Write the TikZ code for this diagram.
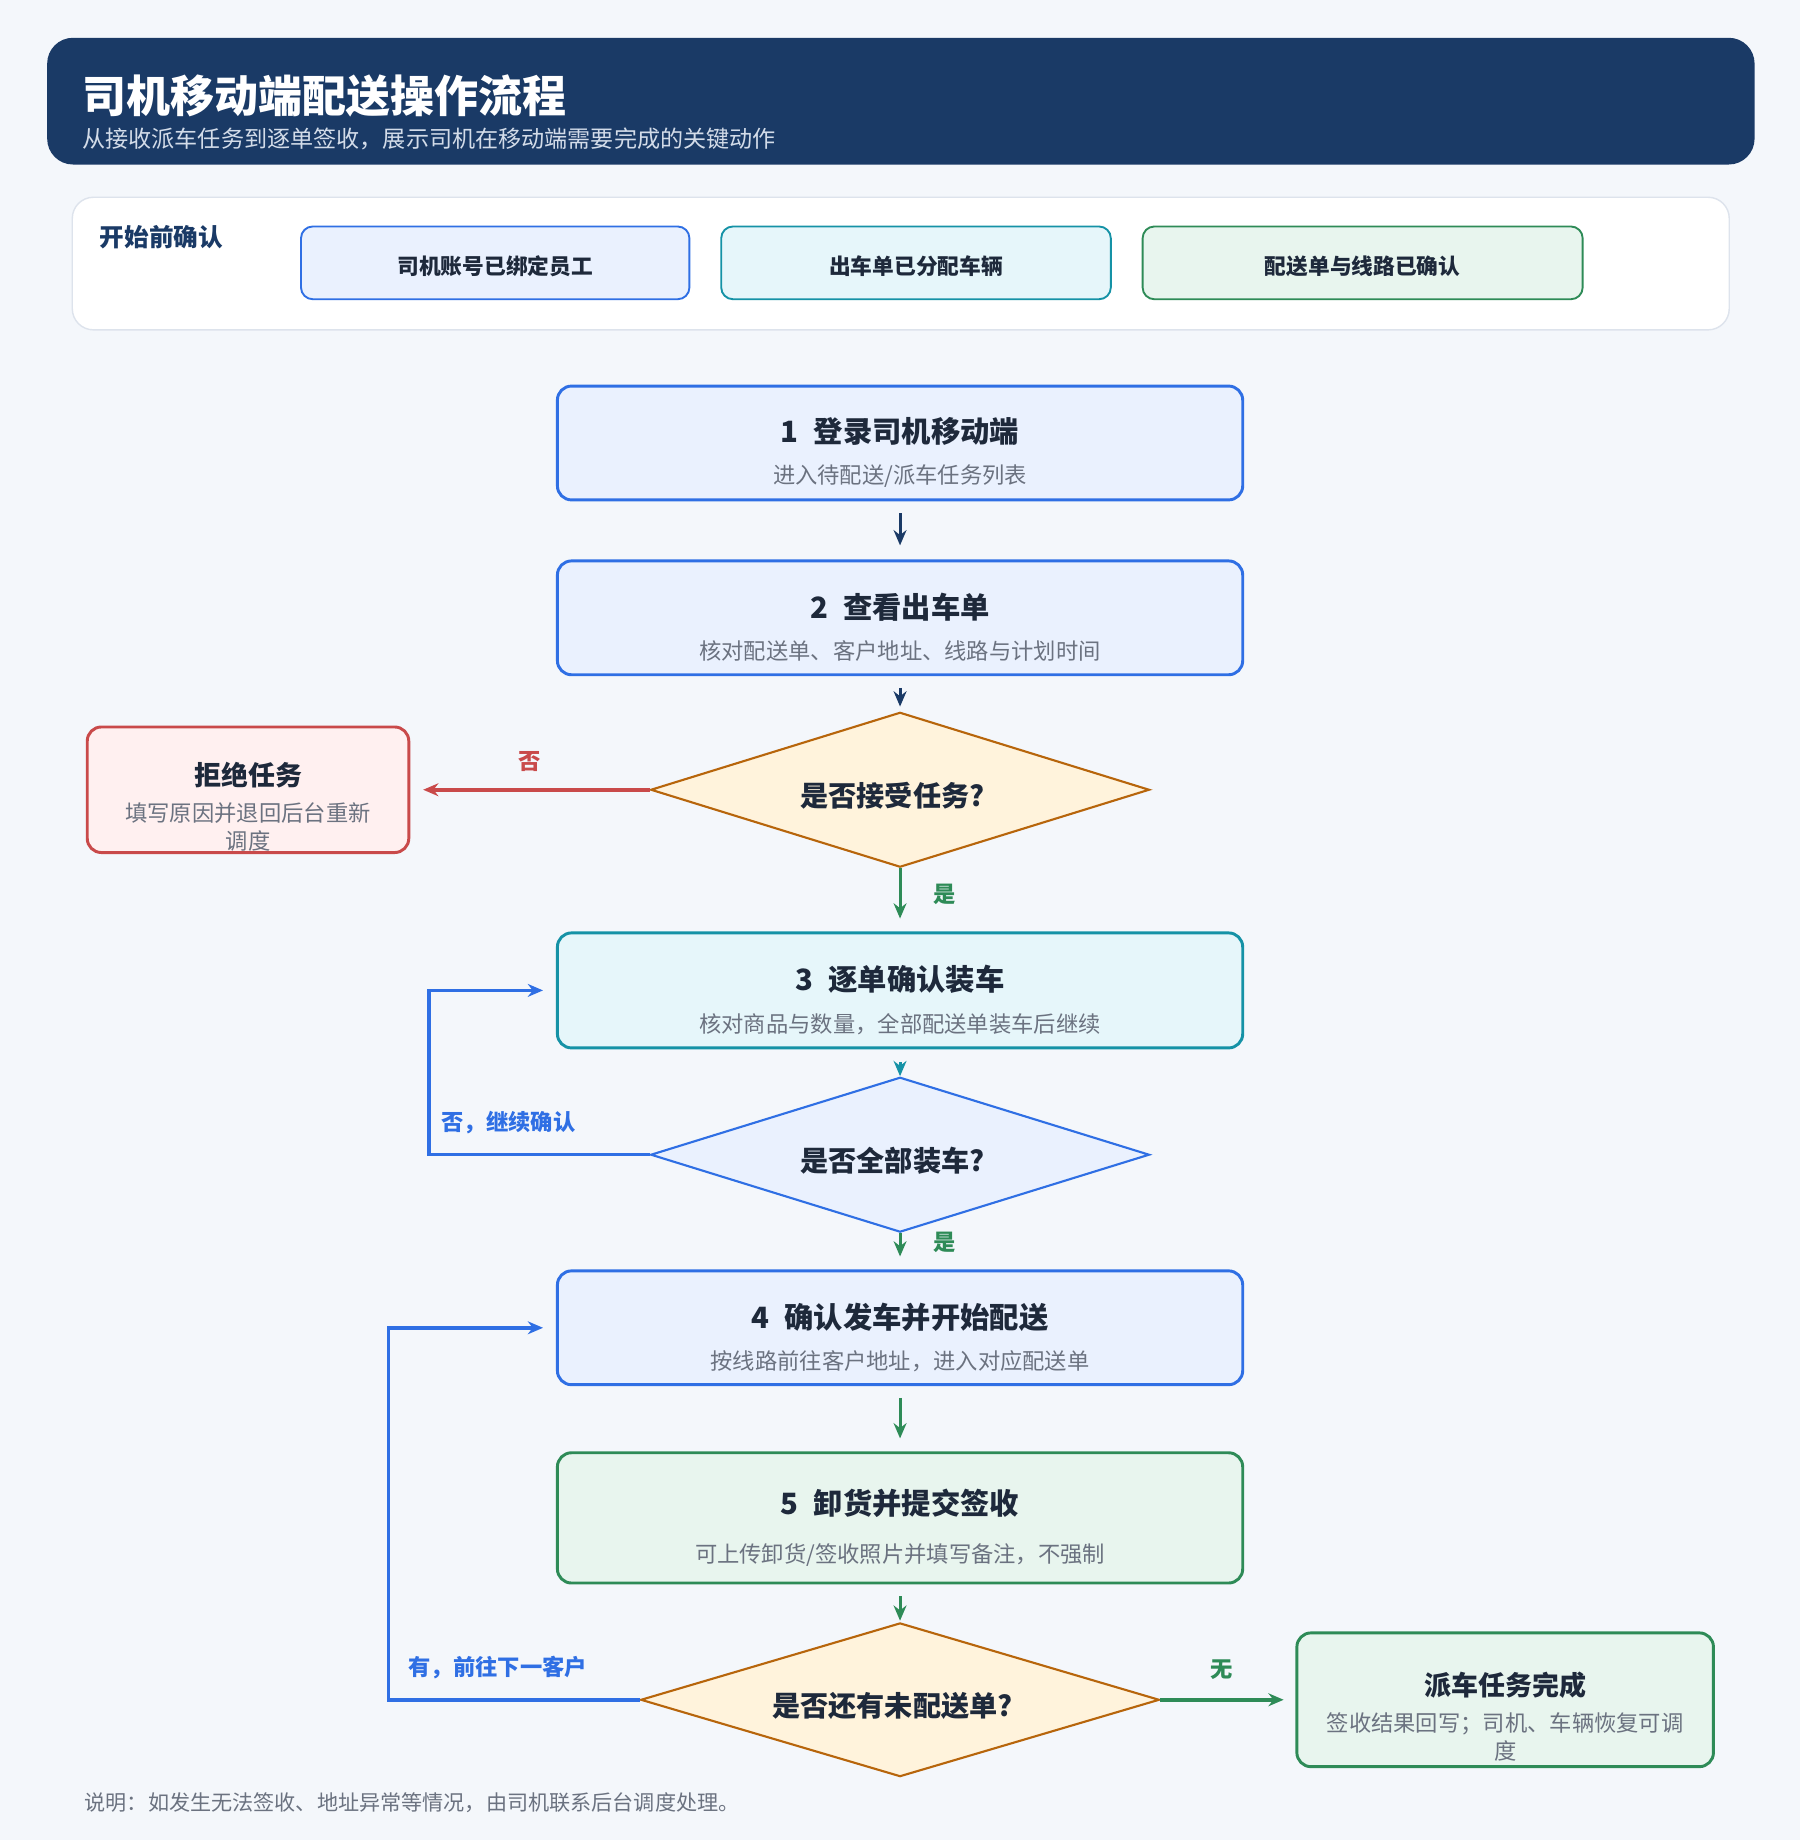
\documentclass[tikz,border=0pt]{standalone}
\usepackage{fontspec}
\setmainfont{Noto Sans CJK SC}
\usetikzlibrary{positioning, shapes.geometric, arrows.meta}
\definecolor{pagebg}{HTML}{F4F7FB}
\definecolor{navy}{HTML}{1A3A66}
\definecolor{headsub}{HTML}{D3DCE9}
\definecolor{ink}{HTML}{1E293B}
\definecolor{notegray}{HTML}{6B7280}
\definecolor{panelline}{HTML}{DDE3EC}
\definecolor{blueline}{HTML}{2F6FE4}
\definecolor{bluefill}{HTML}{EAF1FE}
\definecolor{tealline}{HTML}{1592A6}
\definecolor{tealfill}{HTML}{E6F6FA}
\definecolor{greenline}{HTML}{2E8B57}
\definecolor{greenfill}{HTML}{E8F5EE}
\definecolor{redline}{HTML}{C94A4A}
\definecolor{redfill}{HTML}{FFF0F0}
\definecolor{ambline}{HTML}{B7650B}
\definecolor{ambfill}{HTML}{FFF3DC}
% title line of a step, with a strut that pushes the text block down
\newcommand{\flowtitle}[2][38pt]{{\bfseries\fontsize{25}{30}\selectfont\rule{0pt}{#1}#2}}
\newcommand{\sidetitle}[1]{{\bfseries\fontsize{23}{28}\selectfont\rule{0pt}{49pt}#1}}
\newcommand{\flownote}[1]{{\color{notegray}#1}}
\tikzset {
    >={Stealth[length=13pt, width=11pt]},
    every node/.style={text=ink},
    stepbox/.style={draw, rounded corners=12pt, line width=2.5pt, minimum width=584pt,
        minimum height=97pt, align=center, inner sep=0pt, font=\fontsize{19}{24}\selectfont},
    checkbox/.style={draw, rounded corners=10pt, line width=1.6pt, minimum height=62pt,
        text height=21pt, text depth=1pt, font=\bfseries\fontsize{18.5}{22}\selectfont},
    decision/.style={diamond, draw, line width=1.8pt, inner sep=0pt, aspect=3.2,
        text height=30pt, text depth=1pt, font=\bfseries\fontsize{24}{28}\selectfont},
    flow/.style={->, line width=2.5pt},
    sideflow/.style={->, line width=3pt},
    edgelabel/.style={font=\bfseries\fontsize{19}{22}\selectfont, inner sep=1pt}
}

\begin{document}
\begin{tikzpicture}[x=1pt, y=1pt]
\fill[pagebg] (0,0) rectangle (1534,-1568);
\useasboundingbox (0,0) rectangle (1534,-1568);

% header
\node[fill=navy, rounded corners=22pt, minimum width=1455pt, minimum height=108pt,
    anchor=north west] (head) at (40,-32) {};
\node[anchor=west, inner sep=0pt, text=white, font=\bfseries\fontsize{37.5}{40}\selectfont] (title) at (70,-82)
    {司机移动端配送操作流程};
\node[anchor=west, inner sep=0pt, text=headsub, font=\fontsize{19.7}{24}\selectfont] (subtitle) at (70,-118)
    {从接收派车任务到逐单签收，展示司机在移动端需要完成的关键动作};

% checks before start
\node[draw=panelline, fill=white, line width=1.2pt, rounded corners=18pt, minimum width=1412pt,
    minimum height=113pt, anchor=north west] (pre) at (61,-167.5) {};
\node[anchor=west, inner sep=0pt, text=navy, font=\bfseries\fontsize{21}{24}\selectfont] (prelabel) at (85,-202)
    {开始前确认};
\node[checkbox, draw=blueline, fill=bluefill, minimum width=331pt] (chk1) at (422,-224) {司机账号已绑定员工};
\node[checkbox, draw=tealline, fill=tealfill, minimum width=332pt, right=25.5pt of chk1] (chk2) {出车单已分配车辆};
\node[checkbox, draw=greenline, fill=greenfill, minimum width=375pt, right=25.5pt of chk2] (chk3) {配送单与线路已确认};

% main flow
\node[stepbox, draw=blueline, fill=bluefill] (s1) at (767,-377.5)
    {\flowtitle{1\hspace{13pt}登录司机移动端}\\[10.7pt]\flownote{进入待配送/派车任务列表}};
\node[stepbox, draw=blueline, fill=bluefill] (s2) at (767,-526.5)
    {\flowtitle{2\hspace{13pt}查看出车单}\\[10.7pt]\flownote{核对配送单、客户地址、线路与计划时间}};
\node[decision, fill=ambfill, draw=ambline, minimum width=425pt, minimum height=132pt] (d1) at (767,-673)
    {是否接受任务?\rule{13pt}{0pt}};
\node[stepbox, draw=redline, fill=redfill, minimum width=274pt, minimum height=107pt, left=204pt of d1] (reject)
    {\sidetitle{拒绝任务}\\[6pt]\flownote{填写原因并退回后台重新}\\\flownote{调度}};
\node[stepbox, draw=tealline, fill=tealfill, minimum height=98pt] (s3) at (767,-844)
    {\flowtitle{3\hspace{13pt}逐单确认装车}\\[12pt]\flownote{核对商品与数量，全部配送单装车后继续}};
\node[decision, fill=bluefill, draw=blueline, minimum width=425pt, minimum height=132pt] (d2) at (767,-984)
    {是否全部装车?\rule{13pt}{0pt}};
\node[stepbox, draw=blueline, fill=bluefill] (s4) at (767,-1131.5)
    {\flowtitle{4\hspace{13pt}确认发车并开始配送}\\[10.7pt]\flownote{按线路前往客户地址，进入对应配送单}};
\node[stepbox, draw=greenline, fill=greenfill, minimum height=111pt] (s5) at (767,-1293.5)
    {\flowtitle{5\hspace{13pt}卸货并提交签收}\\[16.7pt]\flownote{可上传卸货/签收照片并填写备注，不强制}};
\node[decision, fill=ambfill, draw=ambline, minimum width=442pt, minimum height=131pt] (d3) at (767,-1448.5)
    {是否还有未配送单?\rule{13pt}{0pt}};
\node[stepbox, draw=greenline, fill=greenfill, minimum width=355pt, minimum height=114pt, right=115pt of d3] (done)
    {\sidetitle{派车任务完成}\\[7pt]\flownote{签收结果回写；司机、车辆恢复可调}\\\flownote{度}};

% connectors
\draw[flow, navy, shorten <=10pt, shorten >=12pt] (s1) -- (s2);
\draw[flow, navy, shorten <=10pt, shorten >=4pt] (s2) -- (d1);
\draw[sideflow, redline, shorten >=11pt] (d1.west) -- node[edgelabel, text=redline, above=13pt] (no1) {否} (reject.east);
\draw[flow, greenline, shorten >=11pt] (d1.south) -- node[edgelabel, text=greenline, pos=0.42, right=26pt] (yes1) {是} (s3.north);
\draw[flow, tealline, shorten <=11pt] (s3.south) -- (d2.north);
\draw[sideflow, blueline, shorten >=11pt] (d2.west) -- ++(-188,0)
    node[edgelabel, text=blueline, pos=0.64, above=15pt] (no2) {否，继续确认} |- (s3.west);
\draw[flow, greenline, shorten >=11pt] (d2.south) -- node[edgelabel, text=greenline, pos=0.24, right=26pt] (yes2) {是} (s4.north);
\draw[flow, greenline, shorten <=10pt, shorten >=11pt] (s4) -- (s5);
\draw[flow, greenline, shorten <=10pt, shorten >=1pt] (s5) -- (d3);
\draw[sideflow, blueline, shorten >=11pt] (d3.west) -- ++(-214,0)
    node[edgelabel, text=blueline, pos=0.565, above=15pt] (more) {有，前往下一客户} |- (s4.west);
\draw[sideflow, greenline, shorten >=10pt] (d3.east) -- node[edgelabel, text=greenline, pos=0.45, above=15pt] (none) {无} (done.west);

% note
\node[anchor=west, inner sep=0pt, text=notegray, font=\fontsize{18}{20}\selectfont] (note) at (72,-1536)
    {说明：如发生无法签收、地址异常等情况，由司机联系后台调度处理。};
\end{tikzpicture}
\end{document}
